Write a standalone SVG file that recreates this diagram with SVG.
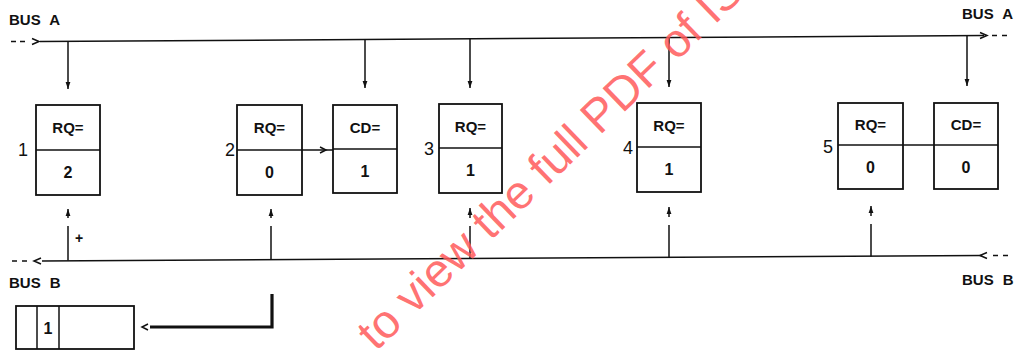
<svg xmlns="http://www.w3.org/2000/svg" width="1020" height="351" viewBox="0 0 1020 351">
<style>
.t{font-family:"Liberation Sans",Arial,sans-serif;font-weight:bold;fill:#111;}
.lbl{font-size:15px;text-anchor:middle;}
.val{font-size:16px;text-anchor:middle;}
.num{font-size:18px;text-anchor:end;font-weight:normal;}
.bus{font-size:15px;word-spacing:5px;}
.box{fill:#fff;stroke:#111;stroke-width:1.8;}
.ln{fill:none;stroke:#111;stroke-width:1.5;}
.th{fill:none;stroke:#111;stroke-width:3.2;}
.chev{fill:none;stroke:#111;stroke-width:1.5;}
.wm{font-family:"Liberation Sans",Arial,sans-serif;font-size:47px;fill:#ff5a5a;fill-opacity:0.85;}
</style>
<defs>
<marker id="ah" viewBox="0 0 7 6" refX="7" refY="3" markerWidth="7" markerHeight="6" orient="auto" markerUnits="userSpaceOnUse">
<path d="M0,0.6 L7,3 L0,5.4 Z" fill="#111"/>
</marker>
</defs>
<rect width="1020" height="351" fill="#fff"/>

<g id="connectors">
<path class="ln" d="M40,41.5 L984,35.5"/>
<path class="ln" d="M11,41.5 H16 M20,41.5 H25"/>
<polyline class="chev" points="32,38.5 39,41.5 32,44.5"/>
<polyline class="chev" points="980,32.5 987,35.5 980,38.5"/>
<path class="ln" d="M992,35.5 H997 M1002,35.5 H1007"/>
<path class="ln" d="M42,261 L982,255.5"/>
<path class="ln" d="M12,261 H17 M22,261 H27"/>
<polyline class="chev" points="41,258 34,261 41,264"/>
<polyline class="chev" points="987,252.5 980,255.5 987,258.5"/>
<path class="ln" d="M993,255.5 H998 M1003,255.5 H1008"/>
<path class="ln" d="M68,41.3 V89" marker-end="url(#ah)"/>
<path class="ln" d="M365,39.5 V88" marker-end="url(#ah)"/>
<path class="ln" d="M470,38.8 V88" marker-end="url(#ah)"/>
<path class="ln" d="M669,37.5 V87" marker-end="url(#ah)"/>
<path class="ln" d="M967,35.6 V86" marker-end="url(#ah)"/>
<path class="ln" d="M68,260.5 V226"/>
<path class="ln" d="M68,218 V209" marker-end="url(#ah)"/>
<path class="ln" d="M271,259.5 V226"/>
<path class="ln" d="M271,218 V209" marker-end="url(#ah)"/>
<path class="ln" d="M470,258.5 V226"/>
<path class="ln" d="M470,218 V208" marker-end="url(#ah)"/>
<path class="ln" d="M669,257.5 V225"/>
<path class="ln" d="M669,217 V207" marker-end="url(#ah)"/>
<path class="ln" d="M871,256.5 V224"/>
<path class="ln" d="M871,216 V206" marker-end="url(#ah)"/>
<path class="ln" d="M302,150 H333"/>
<polyline class="chev" points="320,147 326,150 320,153"/>
<path class="ln" d="M903,145 H934"/>
<path class="th" d="M272,294 V327 H150"/>
<polyline class="chev" points="148,324 142,327 148,330"/>
</g>

<g id="labels">
<text class="t bus" x="9" y="25">BUS A</text>
<text class="t bus" x="962" y="19">BUS A</text>
<text class="t bus" x="9" y="288">BUS B</text>
<text class="t bus" x="962" y="285">BUS B</text>
<text class="t" x="79" y="243" font-size="14" text-anchor="middle">+</text>
</g>

<g id="node1">
<rect class="box" x="36" y="105" width="64" height="90"/>
<line class="ln" x1="36" y1="150" x2="100" y2="150"/>
<text class="t lbl" x="68" y="133">RQ=</text>
<text class="t val" x="68" y="178">2</text>
<text class="t num" x="28" y="156">1</text>
</g>
<g id="node2">
<rect class="box" x="237" y="105" width="65" height="90"/>
<line class="ln" x1="237" y1="150" x2="302" y2="150"/>
<text class="t lbl" x="269.5" y="133">RQ=</text>
<text class="t val" x="269.5" y="178">0</text>
<text class="t num" x="235" y="156">2</text>
</g>
<g id="node2cd">
<rect class="box" x="333" y="105" width="64" height="88"/>
<line class="ln" x1="333" y1="149" x2="397" y2="149"/>
<text class="t lbl" x="365" y="133">CD=</text>
<text class="t val" x="365" y="177">1</text>
</g>
<g id="node3">
<rect class="box" x="439" y="104" width="63" height="89"/>
<line class="ln" x1="439" y1="148" x2="502" y2="148"/>
<text class="t lbl" x="470.5" y="132">RQ=</text>
<text class="t val" x="470.5" y="176">1</text>
<text class="t num" x="434" y="155">3</text>
</g>
<g id="node4">
<rect class="box" x="637" y="103" width="64" height="89"/>
<line class="ln" x1="637" y1="147" x2="701" y2="147"/>
<text class="t lbl" x="669" y="131">RQ=</text>
<text class="t val" x="669" y="175">1</text>
<text class="t num" x="633" y="154">4</text>
</g>
<g id="node5">
<rect class="box" x="838" y="103" width="65" height="86"/>
<line class="ln" x1="838" y1="145" x2="903" y2="145"/>
<text class="t lbl" x="870.5" y="130">RQ=</text>
<text class="t val" x="870.5" y="173">0</text>
<text class="t num" x="833" y="153">5</text>
</g>
<g id="node5cd">
<rect class="box" x="934" y="103" width="64" height="86"/>
<line class="ln" x1="934" y1="145" x2="998" y2="145"/>
<text class="t lbl" x="966" y="130">CD=</text>
<text class="t val" x="966" y="173">0</text>
</g>
<g id="register">
<rect class="box" x="16" y="306" width="118" height="43"/>
<line class="ln" x1="37" y1="306" x2="37" y2="349"/>
<line class="ln" x1="59" y1="306" x2="59" y2="349"/>
<text class="t val" x="48" y="334">1</text>
</g>

<text class="wm" x="376" y="352" transform="rotate(-44 376 352)">to view the full PDF of IS</text>
</svg>
